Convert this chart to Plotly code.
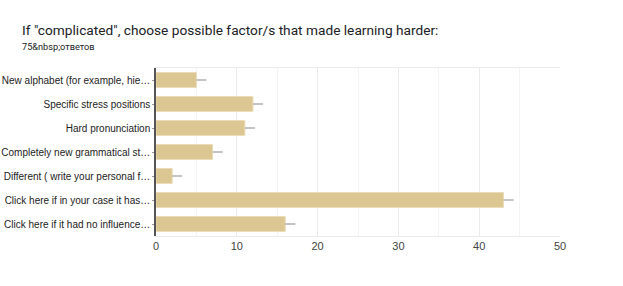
import plotly.graph_objects as go

categories = [
    "New alphabet (for example, hie…",
    "Specific stress positions",
    "Hard pronunciation",
    "Completely new grammatical st…",
    "Different ( write your personal f…",
    "Click here if in your case it has…",
    "Click here if it had no influence…",
]
values = [5, 12, 11, 7, 2, 43, 16]
error_plus = [1.25, 1.25, 1.25, 1.25, 1.25, 1.25, 1.25]
error_minus = [0, 0, 0, 0, 0, 0, 0]
x_ticks = [0, 10, 20, 30, 40, 50]

title_text = 'If "complicated", choose possible factor/s that made learning harder:'
subtitle_text = "75&amp;nbsp;ответов"

L, R, T, B = 156, 63, 68, 50
W, H = 623, 286
plot_w = W - L - R
plot_h = H - T - B


def px_x(p):
    return (p - L) / plot_w


def px_y(p):
    return 1 + (T - p) / plot_h


fig = go.Figure()
fig.add_trace(go.Bar(
    y=categories,
    x=values,
    orientation="h",
    marker=dict(color="#dcc691", line=dict(color="#eadcb8", width=1)),
    error_x=dict(type="data", symmetric=False, array=error_plus, arrayminus=error_minus,
                 color="#b0b0b0", thickness=1.5, width=0),
    hoverinfo="x+y",
))

fig.update_layout(
    width=W, height=H,
    margin=dict(l=L, r=R, t=T, b=B),
    paper_bgcolor="white",
    plot_bgcolor="white",
    bargap=0.38,
    showlegend=False,
    font=dict(family="Liberation Sans, Arial, sans-serif", color="#222222", size=10),
    xaxis=dict(
        range=[0, 50],
        tickvals=x_ticks,
        ticktext=[str(t) for t in x_ticks],
        showgrid=True,
        gridcolor="#ebebeb",
        gridwidth=1,
        minor=dict(dtick=5, showgrid=True, gridcolor="#f4f4f4"),
        zeroline=False,
        showline=True,
        linecolor="#ebebeb",
        mirror=True,
        tickfont=dict(size=11, color="#444444"),
        ticks="",
        automargin=False,
        fixedrange=True,
    ),
    yaxis=dict(
        autorange="reversed",
        showline=True,
        linecolor="#555555",
        linewidth=1.5,
        ticks="outside",
        ticklen=2,
        tickcolor="#999999",
        tickfont=dict(size=10, color="#222222"),
        showgrid=False,
        automargin=False,
        fixedrange=True,
    ),
    annotations=[
        dict(text=title_text, x=px_x(20), y=px_y(30), xref="paper", yref="paper",
             showarrow=False, xanchor="left", yanchor="middle",
             font=dict(size=13.7, color="#202124", family="Roboto, Liberation Sans, sans-serif")),
        dict(text=subtitle_text, x=px_x(20), y=px_y(46), xref="paper", yref="paper",
             showarrow=False, xanchor="left", yanchor="middle",
             font=dict(size=9.2, color="#202124", family="Roboto, Liberation Sans, sans-serif")),
    ],
)

fig.write_html("out.html", config={"displayModeBar": False},
               post_script="document.body.style.margin='0';")
